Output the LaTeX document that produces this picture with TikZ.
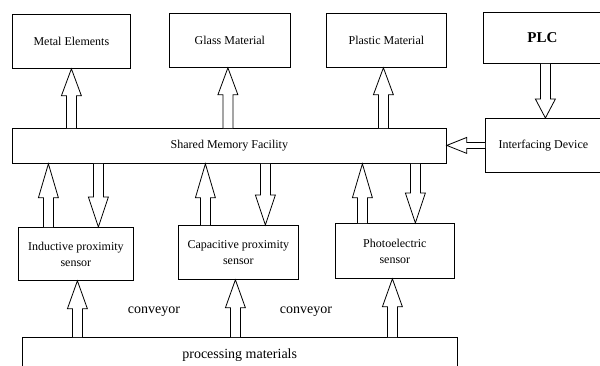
\documentclass[tikz,border=0pt]{standalone}
\usepackage{fontspec}
\setmainfont{Liberation Serif}
\usetikzlibrary{calc}
\tikzset{
  box/.style={draw, line width=0.8pt, inner sep=0pt, anchor=north west,
    font=\fontsize{12}{16}\selectfont, align=center},
  blk/.style={draw, line width=0.8pt, fill=white, line join=miter},
  lbl/.style={font=\fontsize{14}{16}\selectfont, inner sep=0pt}
}
\newcommand\barrow[5]{% start, end, head length, head half width, shaft half width
  \path #1 coordinate (ba-s) #2 coordinate (ba-e);
  \path ($(ba-e)!#3!(ba-s)$) coordinate (ba-b);
  \draw[blk] ($(ba-s)!#5!90:(ba-e)$) -- ($(ba-b)!#5!90:(ba-e)$)
    -- ($(ba-b)!#4!90:(ba-e)$) -- (ba-e) -- ($(ba-b)!#4!-90:(ba-e)$)
    -- ($(ba-b)!#5!-90:(ba-e)$) -- ($(ba-s)!#5!-90:(ba-e)$);
}
\begin{document}
\begin{tikzpicture}[x=1pt, y=-1pt]
\useasboundingbox (0,0) rectangle (600,365);
% top row
\node[box, minimum width=118pt, minimum height=54pt] (metal) at (12,14) {Metal Elements};
\node[box, minimum width=121pt, minimum height=54pt] (glass) at (169,13) {Glass Material};
\node[box, minimum width=120pt, minimum height=54pt] (plastic) at (326,13) {Plastic Material};
\node[box, minimum width=118pt, minimum height=51pt, font=\fontsize{15}{17}\selectfont\bfseries] (plc) at (483,12) {PLC};
% middle
\node[box, minimum width=434pt, minimum height=35pt] (smf) at (12,128) {Shared Memory Facility};
\node[box, minimum width=116pt, minimum height=54pt] (intf) at (485,118) {Interfacing Device};
% sensors
\node[box, minimum width=115pt, minimum height=53pt] (ind) at (18,227) {Inductive proximity\\sensor};
\node[box, minimum width=120pt, minimum height=54pt] (cap) at (178,225) {Capacitive proximity\\sensor};
\node[box, minimum width=119pt, minimum height=55pt] (pho) at (335,223) {Photoelectric\\sensor};
% processing
\node[draw=none, minimum width=435pt, minimum height=36pt, inner sep=0pt, anchor=north west,
  font=\fontsize{14}{16}\selectfont] (proc) at (22,337) {processing materials};
\draw[line width=0.8pt] (proc.south west) -- (proc.north west) -- (proc.north east) -- (proc.south east);
\node[lbl] (conv1) at (154,312) {conveyor};
\node[lbl] (conv2) at (306,312) {conveyor};
% arrows up to outputs
\barrow{(metal.south |- smf.north)}{(metal.south)}{27pt}{10pt}{5pt}
\barrow{($(glass.south |- smf.north)+(-2,0)$)}{($(glass.south)+(-2,0)$)}{27pt}{10pt}{5pt}
\barrow{($(plastic.south |- smf.north)+(-3,0)$)}{($(plastic.south)+(-3,0)$)}{27pt}{10pt}{5pt}
% PLC -> interfacing
\barrow{($(plc.south)+(3,0)$)}{($(plc.south |- intf.north)+(3,0)$)}{19pt}{10pt}{5pt}
% interfacing -> smf
\barrow{(intf.west)}{(intf.west -| smf.east)}{20pt}{8pt}{3pt}
% smf <-> sensors
\barrow{($(ind.north)+(-27.5,0)$)}{($(ind.north |- smf.south)+(-27.5,0)$)}{34pt}{10pt}{5pt}
\barrow{($(ind.north |- smf.south)+(22.5,0)$)}{($(ind.north)+(22.5,0)$)}{30pt}{10pt}{5pt}
\barrow{($(cap.north)+(-33,0)$)}{($(cap.north |- smf.south)+(-33,0)$)}{34pt}{10pt}{5pt}
\barrow{($(cap.north |- smf.south)+(27,0)$)}{($(cap.north)+(27,0)$)}{30pt}{10pt}{5pt}
\barrow{($(pho.north)+(-32.5,0)$)}{($(pho.north |- smf.south)+(-32.5,0)$)}{34pt}{10pt}{5pt}
\barrow{($(pho.north |- smf.south)+(20.5,0)$)}{($(pho.north)+(20.5,0)$)}{30pt}{10pt}{5pt}
% processing -> sensors
\barrow{($(ind.south |- proc.north)+(1.5,0)$)}{($(ind.south)+(1.5,0)$)}{28pt}{10pt}{5pt}
\barrow{($(cap.south |- proc.north)+(-3,0)$)}{($(cap.south)+(-3,0)$)}{28pt}{10pt}{5pt}
\barrow{($(pho.south |- proc.north)+(-2.5,0)$)}{($(pho.south)+(-2.5,0)$)}{28pt}{10pt}{5pt}
\end{tikzpicture}
\end{document}
